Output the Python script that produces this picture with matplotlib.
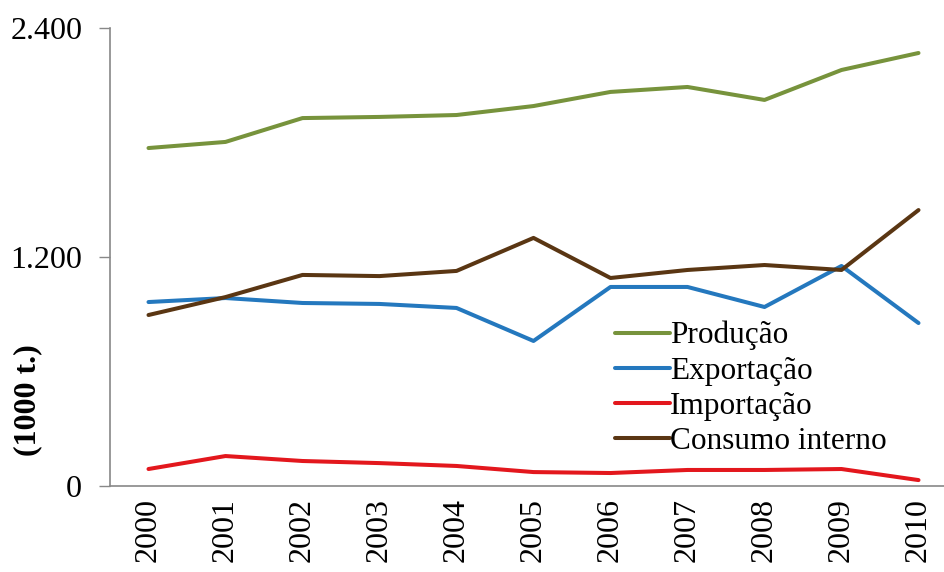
import matplotlib
matplotlib.use('Agg')
import matplotlib.pyplot as plt

years = ['2000', '2001', '2002', '2003', '2004', '2005', '2006', '2007', '2008', '2009', '2010']

producao = [1771, 1803, 1928, 1934, 1944, 1991, 2065, 2091, 2023, 2180, 2269]
exportacao = [964, 985, 959, 954, 933, 760, 1043, 1043, 938, 1153, 854]
importacao = [89, 157, 131, 120, 105, 73, 68, 84, 84, 89, 31]
consumo = [896, 990, 1106, 1100, 1127, 1300, 1090, 1132, 1158, 1132, 1446]

labels = ['Produção', 'Exportação', 'Importação', 'Consumo interno']
colors = ['#77933C', '#2478BE', '#E3171D', '#5A3613']

plt.rcParams['font.family'] = ['Liberation Serif', 'DejaVu Serif']

fig = plt.figure(figsize=(9.44, 5.72), dpi=100)
ax = fig.add_axes([110/944, 86/572, 847/944, 458/572])

x = list(range(len(years)))
for series, lab, col in zip([producao, exportacao, importacao, consumo], labels, colors):
    ax.plot(x, series, color=col, lw=2.9, label=lab, solid_capstyle='round', solid_joinstyle='round')

ax.set_xlim(-0.5, 10.5)
ax.set_ylim(0, 2400)
ax.set_yticks([0, 1200, 2400])
ax.set_yticklabels(['0', '1.200', '2.400'], fontsize=23)
ax.set_xticks(x)
ax.set_xticklabels(years, rotation=90, fontsize=23)
ax.tick_params(axis='x', length=0, pad=9)
ax.tick_params(axis='y', length=8, width=1, color='#888888', pad=12)

for s in ['top', 'right']:
    ax.spines[s].set_visible(False)
for s in ['left', 'bottom']:
    ax.spines[s].set_color('#888888')
    ax.spines[s].set_linewidth(1.2)

fig.text(28/944, 1 - 400/572, '(1000 t.)', rotation=90, fontsize=23, fontweight='bold',
         ha='center', va='center')

ax.legend(loc='upper left', bbox_to_anchor=(615/944, 1 - 321/572), bbox_transform=fig.transFigure,
          frameon=False, fontsize=22.5, handlelength=1.75, handletextpad=0.0,
          labelspacing=0.2, borderpad=0, borderaxespad=0)

fig.savefig('out.png', dpi=100)
